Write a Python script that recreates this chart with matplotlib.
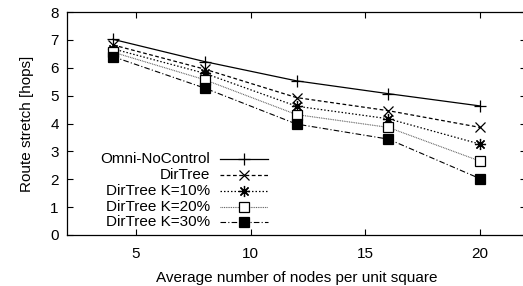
import matplotlib
matplotlib.use("Agg")
import matplotlib.pyplot as plt
from matplotlib.lines import Line2D

plt.rcParams['font.family'] = ['Liberation Sans', 'DejaVu Sans']

nodes = [4, 8, 12, 16, 20]
omni = [7.02, 6.22, 5.53, 5.07, 4.63]
dirtree = [6.82, 5.95, 4.93, 4.46, 3.86]
k10 = [6.68, 5.80, 4.62, 4.17, 3.26]
k20 = [6.56, 5.57, 4.32, 3.86, 2.65]
k30 = [6.40, 5.27, 3.98, 3.44, 2.02]
labels = ["Omni-NoControl", "DirTree", "DirTree K=10%", "DirTree K=20%", "DirTree K=30%"]
xticks = [5, 10, 15, 20]
yticks = [0, 1, 2, 3, 4, 5, 6, 7, 8]

FS = 11

styles = [
    dict(ls='-', marker='+', ms=9, mfc='none', color='black', lw=0.9),
    dict(ls=(0, (3, 2)), marker='x', ms=7, mfc='none', color='black', lw=0.9),
    dict(ls=(0, (1.2, 1.6)), marker=(8, 2, 0), ms=8, mfc='none', color='black', lw=0.9),
    dict(ls=(0, (0.8, 0.8)), marker='s', ms=6.5, mfc='white', color='#555555', mec='black', lw=0.8),
    dict(ls=(0, (5, 2, 1, 2)), marker='s', ms=6.5, mfc='black', color='black', mec='black', lw=0.8),
]

fig = plt.figure(figsize=(5.23, 2.86), dpi=100)
ax = fig.add_axes([67/523, 51/286, 459/523, 223/286])

series = [omni, dirtree, k10, k20, k30]
for ys, st in zip(series, styles):
    ax.plot(nodes, ys, mew=0.9, **st)

ax.set_xlim(2, 22)
ax.set_ylim(0, 8)
ax.set_xticks(xticks)
ax.set_yticks(yticks)
ax.tick_params(direction='in', top=True, right=True, length=4, width=0.8,
               labelsize=FS)
ax.tick_params(axis='x', pad=8.5)
ax.tick_params(axis='y', pad=6)
for s in ax.spines.values():
    s.set_linewidth(0.9)
ax.set_xlabel("Average number of nodes per unit square", fontsize=FS, labelpad=7)
ax.set_ylabel("Route stretch [hops]", fontsize=FS, labelpad=12)

# legend (gnuplot style: right-aligned text, then sample)
row_y = [159, 175, 191, 207, 222]
for lab, st, yp in zip(labels, styles, row_y):
    yf = (235 - yp) / 223
    ax.text((210 - 67) / 459, yf, lab, transform=ax.transAxes, ha='right',
            va='center', fontsize=FS)
    x0 = (220 - 67) / 459
    x1 = (268 - 67) / 459
    ax.add_line(Line2D([x0, x1], [yf, yf], transform=ax.transAxes,
                       ls=st['ls'], color=st['color'], lw=st['lw']))
    ax.add_line(Line2D([(x0 + x1) / 2], [yf], transform=ax.transAxes, ls='none',
                       marker=st['marker'], ms=st['ms'], mfc=st['mfc'],
                       mec=st.get('mec', 'black'), mew=0.9))

fig.savefig("out.png", dpi=100)
